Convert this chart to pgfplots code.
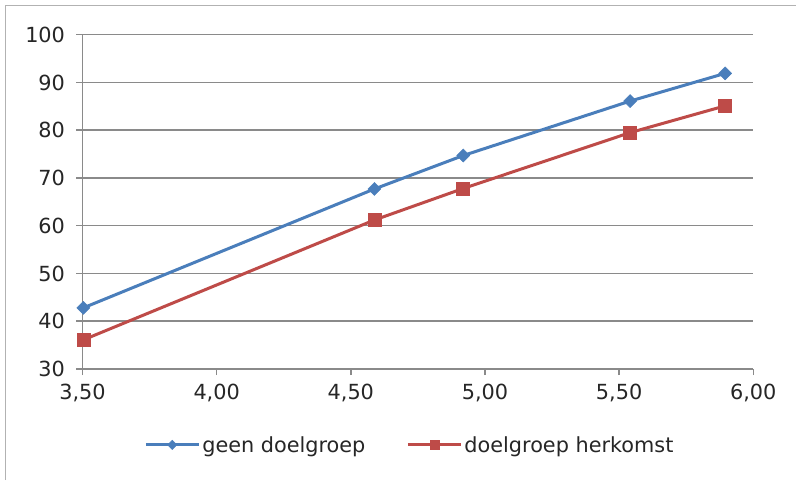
\documentclass[border=0pt]{standalone}
\usepackage{fontspec}
\setmainfont{DejaVu Sans}
\usepackage{pgfplots}
\pgfplotsset{compat=1.18}
\definecolor{blueS}{HTML}{4A7EBB}
\definecolor{redS}{HTML}{BE4B48}
\definecolor{gridc}{HTML}{8A8A8A}
\definecolor{txt}{HTML}{262626}
\begin{document}
\begin{tikzpicture}
\path[use as bounding box] (0pt,0pt) rectangle (796pt,480pt);
\draw[color=gray!60, line width=1.5pt] (5.5pt,0pt) -- (5.5pt,474.5pt) -- (796pt,474.5pt);
\begin{axis}[
  at={(82.5pt,111pt)}, anchor=south west, scale only axis,
  width=670.8pt, height=334.3pt,
  xmin=3.5, xmax=6, ymin=30, ymax=100,
  xtick={3.5,4,4.5,5,5.5,6}, ytick={30,40,50,60,70,80,90,100},
  axis x line*=bottom, axis y line*=left,
  axis line style={gridc, line width=1.5pt, -},
  ymajorgrids, grid style={gridc, line width=1.5pt},
  tick align=outside, major tick length=6pt,
  tick style={gridc, line width=1.5pt},
  xtick pos=bottom, ytick pos=left,
  ticklabel style={font=\fontsize{20.8}{24}\selectfont, text=txt},
  /pgf/number format/assume math mode=true,
  xticklabel style={yshift=-6pt, /pgf/number format/.cd, fixed, fixed zerofill, precision=2, use comma},
  yticklabel style={xshift=-8pt, /pgf/number format/.cd, fixed, precision=0},
  legend style={at={(0.488,-0.227)}, anchor=center, draw=none, fill=none,
    legend columns=2, font=\fontsize{20.8}{24}\selectfont, text=txt,
    /tikz/every even column/.append style={column sep=39pt},
    inner sep=0pt},
  legend cell align=left,
  legend image code/.code={\draw[#1, mark repeat=2, mark phase=2, every mark/.append style={scale=0.72}]
     plot coordinates {(0pt,0pt) (26.5pt,0pt) (53pt,0pt)};},
]
\addplot[blueS, line width=3pt, mark=square*, mark size=4.6pt, mark options={solid, rotate=45, fill=blueS, draw=blueS, line width=0.5pt}]
  coordinates {(3.503,42.8) (4.588,67.7) (4.919,74.7) (5.541,86.1) (5.895,91.9)};
\addlegendentry{geen doelgroep}
\addplot[redS, line width=3pt, mark=square*, mark size=6.5pt, mark options={solid, fill=redS, draw=redS, line width=0.5pt}]
  coordinates {(3.503,36.1) (4.588,61.2) (4.919,67.8) (5.541,79.5) (5.895,85.1)};
\addlegendentry{doelgroep herkomst}
\end{axis}
\end{tikzpicture}
\end{document}
